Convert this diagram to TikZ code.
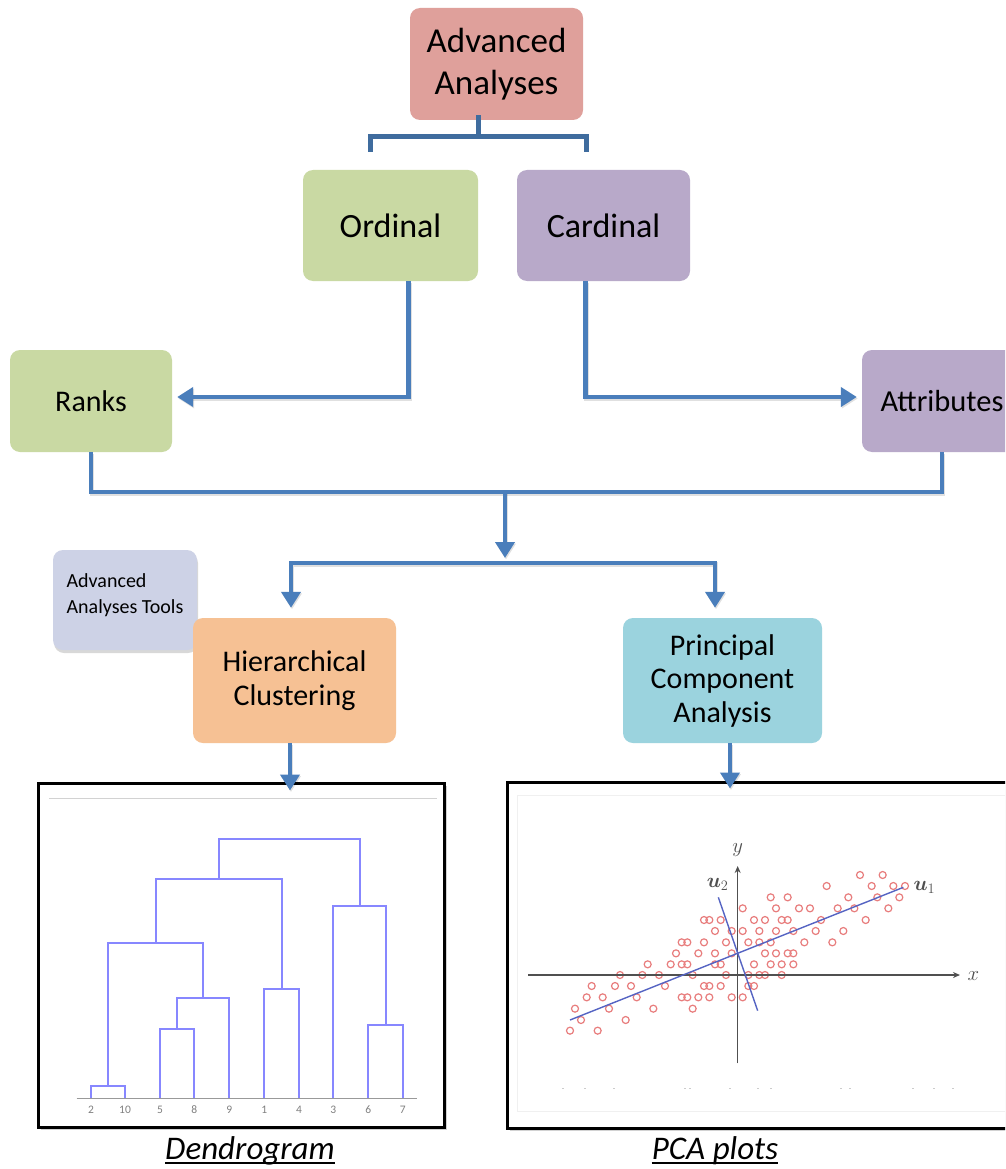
\documentclass[tikz,border=0pt]{standalone}
\usepackage{amsmath}
\usepackage{fontspec}
\setmainfont{Carlito}
\usetikzlibrary{arrows.meta,shadows,calc}

\definecolor{advred}{HTML}{DFA09B}
\definecolor{ordgreen}{HTML}{C9D9A3}
\definecolor{cardpurple}{HTML}{B8A9C9}
\definecolor{toolgray}{HTML}{CDD2E6}
\definecolor{hcorange}{HTML}{F6C194}
\definecolor{pcateal}{HTML}{9BD3DE}
\definecolor{linkblue}{HTML}{4A7EBB}
\definecolor{bracketblue}{HTML}{3F6C9E}
\definecolor{dendblue}{RGB}{135,135,255}
\definecolor{dotred}{RGB}{232,125,125}
\definecolor{pcline}{RGB}{85,100,195}
\definecolor{axisgray}{HTML}{505050}

\begin{document}
\begin{tikzpicture}[x=1pt,y=-1pt,
  box/.style={rounded corners=10pt, inner sep=0pt, align=center, text=black},
  link/.style={draw=linkblue, line width=4.5pt,
    preaction={draw=black, opacity=0.12, line width=4.5pt,
      transform canvas={xshift=1pt, yshift=-1.5pt}}},
  arrow/.style={link, -{Triangle[length=16pt,width=19pt]}},
  bracket/.style={draw=bracketblue, line width=5pt},
  frame/.style={draw=black, line width=3pt, fill=white, inner sep=0pt,
    drop shadow={shadow xshift=2.5pt, shadow yshift=-2.5pt, opacity=0.35}},
  caption/.style={inner sep=0pt, font=\fontsize{33}{40}\selectfont\itshape},
  dend/.style={draw=dendblue, line width=1.8pt},
  leaf/.style={text=gray, font=\fontsize{11.5}{12}\selectfont},
  pt/.style={draw=dotred, line width=1.2pt},
  axis/.style={draw=axisgray, line width=1.3pt, -{Stealth[length=7pt,width=6pt]}},
  pclabel/.style={text=axisgray, font=\fontsize{21}{23}\selectfont}]

\useasboundingbox (0,0) rectangle (1005,1169);
\fill[white] (0,0) rectangle (1005,1169);
\clip (0,0) rectangle (1005,1169);

% ---------- boxes ----------
\node[box, fill=advred, minimum width=173pt, minimum height=112pt,
      font=\fontsize{35}{42}\selectfont] (adv) at (496.5,64) {Advanced\\Analyses};
\node[box, fill=ordgreen, minimum width=175pt, minimum height=111pt,
      font=\fontsize{34}{40}\selectfont] (ord) at (390.5,225.5) {Ordinal};
\node[box, fill=cardpurple, minimum width=173pt, minimum height=111pt,
      font=\fontsize{34}{40}\selectfont] (card) at (603.5,225.5) {Cardinal};
\node[box, fill=ordgreen, minimum width=162pt, minimum height=102pt,
      font=\fontsize{30}{36}\selectfont] (ranks) at (91,401) {Ranks};
\node[box, fill=cardpurple, minimum width=160pt, minimum height=102pt,
      font=\fontsize{30.5}{36}\selectfont] (attr) at (942,401) {Attributes};

\node[box, fill=toolgray, minimum width=144pt, minimum height=100pt,
      drop shadow={shadow xshift=1pt, shadow yshift=-3pt, opacity=0.3}] (tools) at (125,600) {};
\node[inner sep=0pt, align=left, font=\fontsize{20}{26}\selectfont] (toolstext) at (125,595)
      {Advanced\\Analyses Tools};
\node[box, fill=hcorange, minimum width=203pt, minimum height=125pt,
      font=\fontsize{30}{33.5}\selectfont] (hc) at (294.5,680.5) {Hierarchical\\Clustering};
\node[box, fill=pcateal, minimum width=199pt, minimum height=125pt,
      font=\fontsize{30}{33.5}\selectfont] (pca) at (722.5,680.5) {Principal\\Component\\Analysis};

% ---------- bracket under the top box ----------
\coordinate (bj) at (478,137);
\coordinate (bl) at (370,152);
\coordinate (br) at (586,152);
\draw[bracket] ([yshift=5pt]adv.south -| bj) -- (bj);
\draw[bracket] (bl) |- (bj) -| (br);

% ---------- connectors ----------
\draw[arrow, shorten >=5pt] ([xshift=18pt]ord.south) |- ([yshift=4pt]ranks.east);
\draw[arrow, shorten >=5pt] ([xshift=-18pt]card.south) |- ([yshift=4pt]attr.west);

\coordinate (join) at (505,492);
\coordinate (fork) at (505,563);
\draw[link] (ranks.south) |- (join) -| (attr.south);
\draw[arrow, shorten >=5pt] (join) -- (fork);
\draw[arrow, shorten >=10pt] (fork) -| ([xshift=-3.5pt]hc.north);
\draw[arrow, shorten >=10pt] (fork) -| ([xshift=-7.5pt]pca.north);

% ---------- picture frames ----------
\node[frame, minimum width=406pt, minimum height=344pt] (dfr) at (241,955) {};
\node[frame, minimum width=500pt, minimum height=346pt] (pfr) at (757,955) {};

\draw[arrow, shorten >=-9pt] ([xshift=-4.5pt]hc.south) -- ([xshift=-4.5pt]hc.south |- dfr.north);
\draw[arrow, shorten >=-8pt] ([xshift=7.5pt]pca.south) -- ([xshift=7.5pt]pca.south |- pfr.north);

% ---------- dendrogram ----------
\begin{scope}[shift={(40,780)}, scale=1/3]
  \draw[gray!35, line width=1.5pt] (27,55) -- (1190,55);
  \draw[gray!80, line width=1.1pt] (110,955) -- (1130,955);
  \draw[dend] (153,955) |- (255,917) -- (255,955);
  \draw[dend] (360,955) |- (463,747) -- (463,955);
  \draw[dend] (411,747) |- (568,655) -- (568,955);
  \draw[dend] (205,917) |- (490,490) -- (490,655);
  \draw[dend] (673,955) |- (777,628) -- (777,955);
  \draw[dend] (347,490) |- (725,298) -- (725,628);
  \draw[dend] (985,955) |- (1088,735) -- (1088,955);
  \draw[dend] (880,955) |- (1037,378) -- (1037,735);
  \draw[dend] (536,298) |- (960,178) -- (960,378);
  \foreach \xx/\lab in {153/2,255/10,360/5,463/8,568/9,673/1,777/4,880/3,985/6,1088/7}
    \node[leaf] at (\xx,990) {\lab};
\end{scope}

% ---------- PCA scatter plot ----------
\begin{scope}[shift={(505,780)}, scale=1/3]
  \draw[gray!12, line width=0.8pt] (38,45) rectangle (1510,995);
  \foreach \yy/\xs in {
      285/{1065,1133},
      318/{965,1100,1165,1200},
      352/{797,848,1030,1117,1183},
      385/{713,813,882,915,998,1048,1150},
      420/{597,613,647,747,780,830,848,948,1082},
      453/{630,680,713,763,813,865,932,1015},
      487/{530,547,597,663,730,763,797,898,982},
      520/{513,580,630,680,780,813,848,865},
      553/{428,497,530,547,630,647,747,797,830,865},
      585/{345,412,462,563,663,730,763,780,830},
      618/{260,330,378,480,597,613,647,730,747},
      652/{245,293,395,530,547,580,613,680,713},
      686/{210,312,445,563},
      720/{228,362},
      752/{195,278}} {
    \foreach \xx in \xs { \draw[pt] (\xx,\yy) circle (10.5); }
  }
  \draw[axis] (70,585) -- (1365,585);
  \draw[axis] (698,850) -- (698,258);
  \node[pclabel] at (1405,588) {$x$};
  \node[pclabel] at (698,210) {$y$};
  \draw[pcline, line width=1.4pt] (195,720) -- (1195,322);
  \draw[pcline, line width=1.4pt] (640,352) -- (758,692);
  \node[pclabel] at (638,312) {$\boldsymbol{u}_2$};
  \node[pclabel] at (1258,322) {$\boldsymbol{u}_1$};
  \foreach \xx in {175,240,328,540,555,675,760,797,1008,1035,1225,1287,1345}
    \fill[gray!40] (\xx-3,923) rectangle (\xx+3,927);
\end{scope}

% ---------- captions ----------
\node[caption, anchor=base] (capd) at (250,1159) {Dendrogram};
\draw[line width=2pt] ([yshift=-4pt]capd.base west) -- ([yshift=-4pt]capd.base east);
\node[caption, anchor=base] (capp) at (715,1159) {PCA plots};
\draw[line width=2pt] ([yshift=-4pt]capp.base west) -- ([yshift=-4pt]capp.base east);

\end{tikzpicture}
\end{document}
